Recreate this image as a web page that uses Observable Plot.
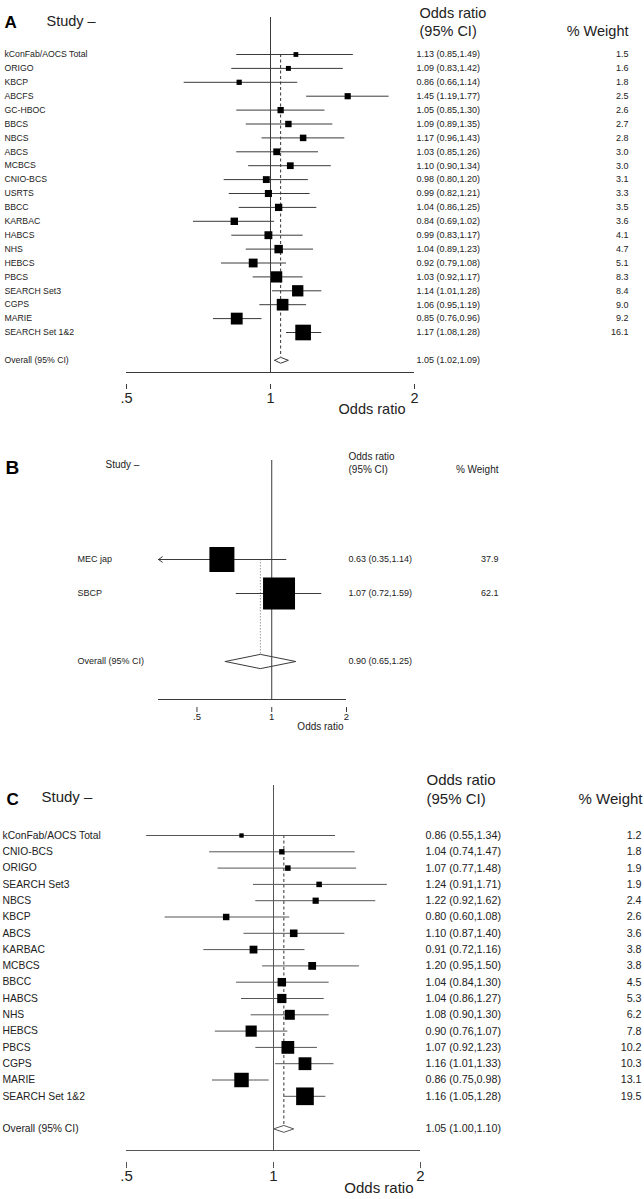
<!DOCTYPE html>
<html>
<head>
<meta charset="utf-8">
<script src="https://cdn.jsdelivr.net/npm/d3@7"></script>
<script src="https://cdn.jsdelivr.net/npm/@observablehq/plot@0.6"></script>
<style>
  html, body { margin: 0; padding: 0; background: #fff; }
  #wrap { width: 644px; }
  #wrap svg { display: block; overflow: visible; }
</style>
</head>
<body>
<div id="wrap"></div>
<script>
// ---------- Shared axis ticks ----------
const ticks = [0.5, 1, 2];
const tickLabels = [".5", "1", "2"];
const axisTitle = "Odds ratio";
const studyHeader = "Study \u2013";
const orHeader1 = "Odds ratio";
const orHeader2 = "(95% CI)";
const weightHeader = "% Weight";
const overallLabel = "Overall (95% CI)";

// ---------- Panel A ----------
const studiesA = ["kConFab/AOCS Total","ORIGO","KBCP","ABCFS","GC-HBOC","BBCS","NBCS","ABCS","MCBCS","CNIO-BCS","USRTS","BBCC","KARBAC","HABCS","NHS","HEBCS","PBCS","SEARCH Set3","CGPS","MARIE","SEARCH Set 1&2"];
const orA     = [1.13,1.09,0.86,1.45,1.05,1.09,1.17,1.03,1.10,0.98,0.99,1.04,0.84,0.99,1.04,0.92,1.03,1.14,1.06,0.85,1.17];
const loA     = [0.85,0.83,0.66,1.19,0.85,0.89,0.96,0.85,0.90,0.80,0.82,0.86,0.69,0.83,0.89,0.79,0.92,1.01,0.95,0.76,1.08];
const hiA     = [1.49,1.42,1.14,1.77,1.30,1.35,1.43,1.26,1.34,1.20,1.21,1.25,1.02,1.17,1.23,1.08,1.17,1.28,1.19,0.96,1.28];
const weightA = [1.5,1.6,1.8,2.5,2.6,2.7,2.8,3.0,3.0,3.1,3.3,3.5,3.6,4.1,4.7,5.1,8.3,8.4,9.0,9.2,16.1];
const overallA = [1.05, 1.02, 1.09];

// ---------- Panel B ----------
const studiesB = ["MEC jap","SBCP"];
const orB     = [0.63, 1.07];
const loB     = [0.35, 0.72];
const hiB     = [1.14, 1.59];
const weightB = [37.9, 62.1];
const overallB = [0.90, 0.65, 1.25];

// ---------- Panel C ----------
const studiesC = ["kConFab/AOCS Total","CNIO-BCS","ORIGO","SEARCH Set3","NBCS","KBCP","ABCS","KARBAC","MCBCS","BBCC","HABCS","NHS","HEBCS","PBCS","CGPS","MARIE","SEARCH Set 1&2"];
const orC     = [0.86,1.04,1.07,1.24,1.22,0.80,1.10,0.91,1.20,1.04,1.04,1.08,0.90,1.07,1.16,0.86,1.16];
const loC     = [0.55,0.74,0.77,0.91,0.92,0.60,0.87,0.72,0.95,0.84,0.86,0.90,0.76,0.92,1.01,0.75,1.05];
const hiC     = [1.34,1.47,1.48,1.71,1.62,1.08,1.40,1.16,1.50,1.30,1.27,1.30,1.07,1.23,1.33,0.98,1.28];
const weightC = [1.2,1.8,1.9,1.9,2.4,2.6,3.6,3.8,3.8,4.5,5.3,6.2,7.8,10.2,10.3,13.1,19.5];
const overallC = [1.05, 1.00, 1.10];

// ---------- Layouts (page pixel positions, style only) ----------
const layoutA = {top:0, height:420, xRange:[126,414], firstRowY:54, step:13.9, lineTopY:17, axisY:372, tickTopY:384,
  tickLen:5, tickPad:3, tickFont:14.5, axisLabelRight:405, axisLabelY:413, axisLabelFont:14.5,
  letterX:4, letterY:15, letterFont:17, studyX:46, studyY:15, headFont:14.5,
  orHeadX:419, orHead1Y:7, orHead2Y:25, wHeadRight:628, wHeadY:25,
  labelX:4, labelFont:8.7, ciX:416, ciFont:9, wRight:628, boxK:3.9, dash:"3,2.5", dashColor:"#333", line:"#3a3a3a"};
const layoutB = {top:420, height:340, xRange:[158,346], firstRowY:559, step:34, lineTopY:460, axisY:699, tickTopY:707,
  tickLen:5, tickPad:1, tickFont:9.5, axisLabelRight:343, axisLabelY:729, axisLabelFont:10,
  letterX:5, letterY:460, letterFont:19, studyX:105, studyY:460, headFont:10,
  orHeadX:348, orHead1Y:452, orHead2Y:465, wHeadRight:498, wHeadY:465,
  labelX:77, labelFont:9, ciX:348, ciFont:9, wRight:498, boxK:4.06, dash:"1.5,1.5", dashColor:"#999", line:"#3a3a3a"};
const layoutC = {top:760, height:439, xRange:[126,420], firstRowY:835, step:16.3, lineTopY:785, axisY:1150, tickTopY:1162,
  tickLen:6, tickPad:2, tickFont:15, axisLabelRight:413, axisLabelY:1192, axisLabelFont:15,
  letterX:6, letterY:792, letterFont:17, studyX:41, studyY:791, headFont:15,
  orHeadX:426, orHead1Y:774, orHead2Y:793, wHeadRight:642, wHeadY:793,
  labelX:2, labelFont:10.3, ciX:425, ciFont:10.7, wRight:641, boxK:4.0, dash:"3,2.5", dashColor:"#333", line:"#555"};

const INK = "#222";

function tickText(d) {
  const k = d3.leastIndex(ticks, t => Math.abs(Math.log(t) - Math.log(d)));
  return tickLabels[k];
}

function forest(letter, studies, or, lo, hi, weight, overall, L) {
  const n = studies.length;
  const rows = studies.map((s, i) => ({i, label: s, or: or[i], lo: lo[i], hi: hi[i], w: weight[i]}));
  const oi = n + 1;
  const [oOr, oLo, oHi] = overall;
  const h = 0.21;
  const diamond = [
    {x: oLo, y: oi}, {x: oOr, y: oi - h}, {x: oHi, y: oi}, {x: oOr, y: oi + h}, {x: oLo, y: oi}
  ];
  const xDom = [Math.min(ticks[0], d3.min(lo)), Math.max(ticks[ticks.length - 1], d3.max(hi))];
  const t = L.top;
  const yPx = L.firstRowY - t;
  const yInv = p => (p - L.firstRowY) / L.step;
  const fmt = (a, b, c) => `${a.toFixed(2)} (${b.toFixed(2)},${c.toFixed(2)})`;
  const clipped = rows.filter(d => d.lo < ticks[0]);
  const plain = rows.filter(d => d.lo >= ticks[0]);
  const textRows = rows.map(d => ({i: d.i, label: d.label, ci: fmt(d.or, d.lo, d.hi), w: d.w.toFixed(1)}))
    .concat([{i: oi, label: overallLabel, ci: fmt(oOr, oLo, oHi), w: ""}]);
  const tickRows = ticks.map(v => ({v, s: tickText(v)}));
  const x0 = L.xRange[0], x1 = L.xRange[1];
  const rk = L.boxK / Math.sqrt(Math.PI);
  const LINE = L.line;

  return Plot.plot({
    width: 644,
    height: L.height,
    marginLeft: x0,
    marginRight: 644 - x1,
    marginTop: L.lineTopY - t,
    marginBottom: t + L.height - L.tickTopY,
    x: {type: "log", domain: xDom},
    y: {domain: [0, 1], range: [yPx, yPx + L.step], axis: null},
    r: {type: "sqrt", domain: [0, 1], range: [0, rk]},
    style: {fontFamily: "'Liberation Sans', Arial, sans-serif", color: INK, background: "#fff"},
    marks: [
      // null line at OR = 1
      Plot.ruleX([1], {stroke: LINE, strokeWidth: 1, insetBottom: L.tickTopY - L.axisY}),
      // axis line
      Plot.ruleY([{y: yInv(L.axisY), a: xDom[0], b: xDom[1]}], {y: "y", x1: "a", x2: "b", stroke: LINE, strokeWidth: 1}),
      // tick marks (below the axis line, detached as in the original)
      Plot.axisX(tickRows, {x: "v", tickSize: L.tickLen, text: null, label: null, stroke: LINE}),
      // tick labels
      Plot.text(tickRows, {x: "v", text: "s", frameAnchor: "bottom", dy: L.tickLen + L.tickPad, lineAnchor: "top", fontSize: L.tickFont, fill: INK}),
      // overall effect reference line
      Plot.ruleX([{x: oOr, a: 0, b: oi - h}], {x: "x", y1: "a", y2: "b", stroke: L.dashColor, strokeWidth: 1, strokeDasharray: L.dash}),
      // confidence intervals
      Plot.ruleY(plain, {y: "i", x1: "lo", x2: "hi", stroke: LINE, strokeWidth: 1}),
      Plot.arrow(clipped, {x1: "hi", y1: "i", x2: "lo", y2: "i", stroke: LINE, strokeWidth: 1, headLength: 7, headAngle: 70}),
      // weighted boxes
      Plot.dot(rows, {x: "or", y: "i", r: "w", symbol: "square", fill: "#000", stroke: null}),
      // overall diamond
      Plot.line(diamond, {x: "x", y: "y", stroke: LINE, strokeWidth: 1, curve: "linear"}),
      // row texts
      Plot.text(textRows, {y: "i", text: "label", frameAnchor: "left", dx: L.labelX - x0, textAnchor: "start", fontSize: L.labelFont, fill: INK}),
      Plot.text(textRows, {y: "i", text: "ci", frameAnchor: "left", dx: L.ciX - x0, textAnchor: "start", fontSize: L.ciFont, fill: INK}),
      Plot.text(textRows, {y: "i", text: "w", frameAnchor: "right", dx: L.wRight - x1, textAnchor: "end", fontSize: L.ciFont, fill: INK}),
      // headers
      Plot.text([letter], {frameAnchor: "top-left", dx: L.letterX - x0, dy: L.letterY - L.lineTopY, textAnchor: "start", fontSize: L.letterFont, fontWeight: "bold", fill: "#000"}),
      Plot.text([studyHeader], {frameAnchor: "top-left", dx: L.studyX - x0, dy: L.studyY - L.lineTopY, textAnchor: "start", fontSize: L.headFont, fill: INK}),
      Plot.text([orHeader1], {frameAnchor: "top-left", dx: L.orHeadX - x0, dy: L.orHead1Y - L.lineTopY, textAnchor: "start", fontSize: L.headFont, fill: INK}),
      Plot.text([orHeader2], {frameAnchor: "top-left", dx: L.orHeadX - x0, dy: L.orHead2Y - L.lineTopY, textAnchor: "start", fontSize: L.headFont, fill: INK}),
      Plot.text([weightHeader], {frameAnchor: "top-right", dx: L.wHeadRight - x1, dy: L.wHeadY - L.lineTopY, textAnchor: "end", fontSize: L.headFont, fill: INK}),
      // axis title
      Plot.text([axisTitle], {frameAnchor: "bottom-right", dx: L.axisLabelRight - x1, dy: L.axisLabelY - L.tickTopY, textAnchor: "end", fontSize: L.axisLabelFont, fill: INK})
    ]
  });
}

const wrap = document.getElementById("wrap");
wrap.appendChild(forest("A", studiesA, orA, loA, hiA, weightA, overallA, layoutA));
wrap.appendChild(forest("B", studiesB, orB, loB, hiB, weightB, overallB, layoutB));
wrap.appendChild(forest("C", studiesC, orC, loC, hiC, weightC, overallC, layoutC));
</script>
</body>
</html>
